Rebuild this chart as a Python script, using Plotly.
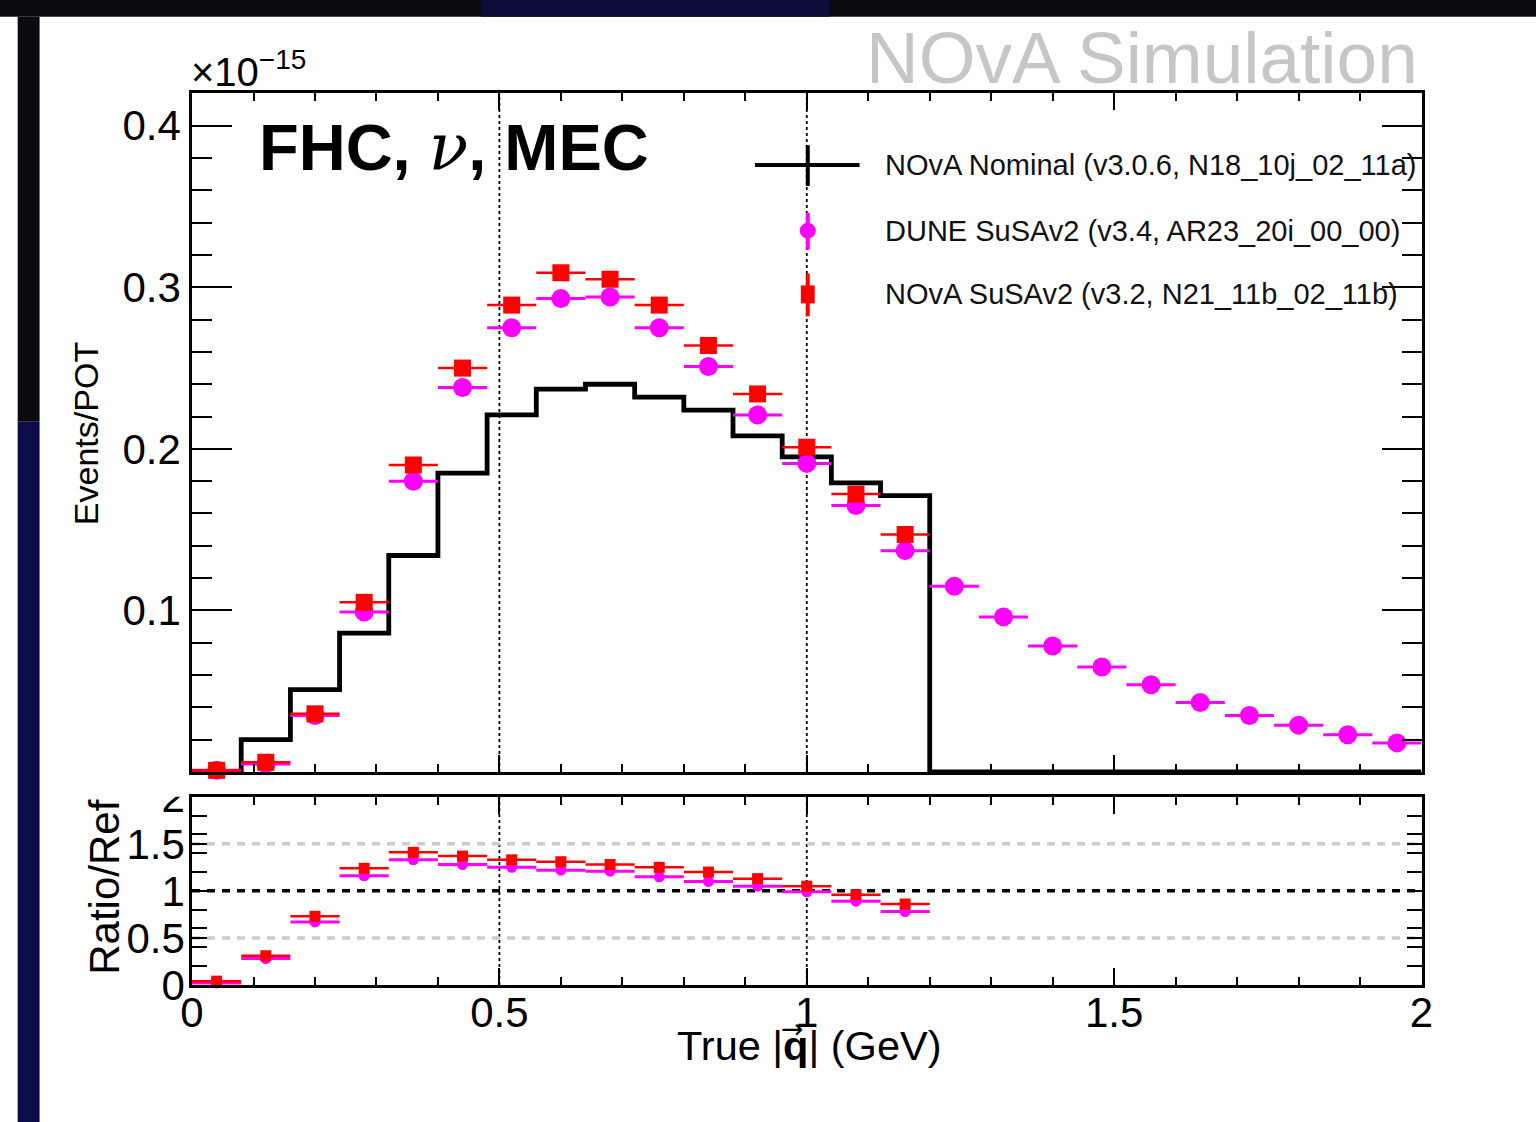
import plotly.graph_objects as go

W, H = 1536, 1122

# ---------------- data ----------------
bin_centers = [0.04, 0.12, 0.20, 0.28, 0.36, 0.44, 0.52, 0.60, 0.68, 0.76,
               0.84, 0.92, 1.00, 1.08, 1.16, 1.24, 1.32, 1.40, 1.48, 1.56,
               1.64, 1.72, 1.80, 1.88, 1.96]
bin_half_width = 0.04

# NOvA Nominal (v3.0.6) - histogram, events/POT in units of 1e-15
nova_nominal = [0.000, 0.020, 0.051, 0.086, 0.134, 0.185, 0.221, 0.237, 0.240,
                0.232, 0.224, 0.208, 0.195, 0.179, 0.171, 0.0, 0.0, 0.0, 0.0,
                0.0, 0.0, 0.0, 0.0, 0.0, 0.0]

# DUNE SuSAv2 (v3.4)
dune_susav2 = [0.001, 0.005, 0.035, 0.099, 0.180, 0.238, 0.275, 0.293, 0.294,
               0.275, 0.251, 0.221, 0.191, 0.165, 0.137, 0.115, 0.096, 0.078,
               0.065, 0.054, 0.043, 0.035, 0.029, 0.023, 0.018]

# NOvA SuSAv2 (v3.2) - only up to 1.2 GeV
nova_susav2 = [0.001, 0.006, 0.036, 0.105, 0.190, 0.250, 0.289, 0.309, 0.305,
               0.289, 0.264, 0.234, 0.201, 0.172, 0.147]

# Ratio / Ref (ratio to NOvA Nominal)
ratio_centers = bin_centers[:15]
ratio_nova_susav2 = [0.04, 0.31, 0.73, 1.24, 1.41, 1.37, 1.33, 1.31, 1.28,
                     1.25, 1.20, 1.13, 1.05, 0.96, 0.86]
ratio_dune_susav2 = [0.02, 0.28, 0.67, 1.16, 1.33, 1.28, 1.25, 1.22, 1.21,
                     1.15, 1.10, 1.05, 0.99, 0.89, 0.78]

legend_labels = ["NOvA Nominal (v3.0.6, N18_10j_02_11a)",
                 "DUNE SuSAv2 (v3.4, AR23_20i_00_00)",
                 "NOvA SuSAv2 (v3.2, N21_11b_02_11b)"]

top_yticks = [0.1, 0.2, 0.3, 0.4]
ratio_yticks = [0, 0.5, 1, 1.5, 2]
x_ticks = [0, 0.5, 1, 1.5, 2]

# ---------------- helpers (layout only) ----------------
# map target screen pixels to paper coordinates (compensates page framing)
AX, BX = 0.988, 9.3
AY, BY = 0.963, 19.2


def px(p):
    return ((p - BX) / AX) / W


def py(p):
    return 1 - ((p - BY) / AY) / H


FONT = "Liberation Sans, Arial, Helvetica, sans-serif"
MAG = "#ff00ff"
RED = "#ff0000"

# histogram step line from bin edges
edges = [c - bin_half_width for c in bin_centers] + [bin_centers[-1] + bin_half_width]
step_y = nova_nominal + [nova_nominal[-1]]

fig = go.Figure()

fig.add_trace(go.Scatter(
    x=edges, y=step_y, mode="lines",
    line=dict(color="black", width=4.8, shape="hv"),
    xaxis="x", yaxis="y", showlegend=False, cliponaxis=False))

fig.add_trace(go.Scatter(
    x=bin_centers, y=dune_susav2, mode="markers",
    marker=dict(symbol="circle", size=19, color=MAG),
    error_x=dict(type="constant", value=bin_half_width, thickness=3, width=0, color=MAG),
    xaxis="x", yaxis="y", showlegend=False, cliponaxis=False))

fig.add_trace(go.Scatter(
    x=bin_centers[:len(nova_susav2)], y=nova_susav2, mode="markers",
    marker=dict(symbol="square", size=17, color=RED),
    error_x=dict(type="constant", value=bin_half_width, thickness=2.5, width=0, color=RED),
    xaxis="x", yaxis="y", showlegend=False, cliponaxis=False))

# ratio panel
fig.add_trace(go.Scatter(
    x=ratio_centers, y=ratio_dune_susav2, mode="markers",
    marker=dict(symbol="circle", size=11, color=MAG),
    error_x=dict(type="constant", value=bin_half_width, thickness=3, width=0, color=MAG),
    xaxis="x2", yaxis="y2", showlegend=False, cliponaxis=False))

fig.add_trace(go.Scatter(
    x=ratio_centers, y=ratio_nova_susav2, mode="markers",
    marker=dict(symbol="square", size=11, color=RED),
    error_x=dict(type="constant", value=bin_half_width, thickness=2.5, width=0, color=RED),
    xaxis="x2", yaxis="y2", showlegend=False, cliponaxis=False))

xdom = [px(190), px(1424)]
axis_common = dict(showline=True, linewidth=2.5, linecolor="black", mirror="allticks",
                   ticks="inside", tickcolor="black", tickwidth=2,
                   showgrid=False, zeroline=False,
                   tickfont=dict(family=FONT, size=42, color="black"))

fig.update_layout(
    width=W, height=H,
    margin=dict(l=0, r=0, t=0, b=0),
    paper_bgcolor="white", plot_bgcolor="white",
    showlegend=False,
    xaxis=dict(domain=xdom, range=[0, 2], anchor="y", showticklabels=False,
               tickmode="array", tickvals=x_ticks, ticklen=17,
               minor=dict(tickmode="linear", tick0=0, dtick=0.1, ticklen=8,
                          ticks="inside", tickwidth=2, tickcolor="black"),
               **axis_common),
    yaxis=dict(domain=[py(772), py(90)], range=[0, 0.42], anchor="x",
               tickmode="array", tickvals=top_yticks,
               ticktext=[str(v) for v in top_yticks], ticklen=40,
               minor=dict(tickmode="linear", tick0=0, dtick=0.02, ticklen=20,
                          ticks="inside", tickwidth=2, tickcolor="black"),
               **axis_common),
    xaxis2=dict(domain=xdom, range=[0, 2], anchor="y2",
                tickmode="array", tickvals=x_ticks,
                ticktext=["0", "0.5", "1", "1.5", "2"], ticklen=17,
                ticklabelstandoff=-11,
                minor=dict(tickmode="linear", tick0=0, dtick=0.1, ticklen=8,
                           ticks="inside", tickwidth=2, tickcolor="black"),
                **axis_common),
    yaxis2=dict(domain=[py(986), py(797)], range=[0, 2], anchor="x2",
                tickmode="array", tickvals=ratio_yticks,
                ticktext=["0", "0.5", "1", "1.5", "2"], ticklen=15,
                ticklabelstandoff=-4,
                minor=dict(tickmode="linear", tick0=0, dtick=0.2, ticklen=15,
                           ticks="inside", tickwidth=2, tickcolor="black"),
                **axis_common),
)

shapes = []
# dotted vertical reference lines
for xv in (0.5, 1.0):
    shapes.append(dict(type="line", xref="x", yref="y domain", x0=xv, x1=xv, y0=0, y1=1,
                       line=dict(color="black", width=1.8, dash="dot"), layer="below"))
    shapes.append(dict(type="line", xref="x2", yref="y2 domain", x0=xv, x1=xv, y0=0, y1=1,
                       line=dict(color="black", width=1.8, dash="dot"), layer="below"))
# ratio horizontal lines
for yv, col in ((0.5, "#cccccc"), (1.5, "#cccccc"), (1.0, "black")):
    shapes.append(dict(type="line", xref="x2 domain", yref="y2", x0=0, x1=1, y0=yv, y1=yv,
                       line=dict(color=col, width=3.5, dash="8px,7px"), layer="below"))

# screen frame decoration (dark borders of the slide)
shapes.append(dict(type="rect", xref="paper", yref="paper", x0=-0.05, x1=1.05, y0=py(13), y1=1.05,
                   fillcolor="#0b0b12", line=dict(width=0), layer="above"))
shapes.append(dict(type="rect", xref="paper", yref="paper", x0=px(480), x1=px(830), y0=py(13), y1=1.05,
                   fillcolor="#0c0c3a", line=dict(width=0), layer="above"))
shapes.append(dict(type="rect", xref="paper", yref="paper", x0=px(15), x1=px(37), y0=py(420), y1=py(13),
                   fillcolor="#0b0b12", line=dict(width=0), layer="above"))
shapes.append(dict(type="rect", xref="paper", yref="paper", x0=px(15), x1=px(37), y0=-0.05, y1=py(420),
                   fillcolor="#0c0c4a", line=dict(width=0), layer="above"))
# hide top half of the ratio "2" label (clipped in the original)
shapes.append(dict(type="rect", xref="paper", yref="paper", x0=px(110), x1=px(186), y0=py(797), y1=py(776),
                   fillcolor="white", line=dict(width=0), layer="above"))

# manual legend symbols
rows = [162, 228, 292]
shapes.append(dict(type="line", xref="paper", yref="paper", x0=px(755), x1=px(860),
                   y0=py(rows[0]), y1=py(rows[0]), line=dict(color="black", width=4)))
shapes.append(dict(type="line", xref="paper", yref="paper", x0=px(808), x1=px(808),
                   y0=py(rows[0] - 20), y1=py(rows[0] + 21), line=dict(color="black", width=4)))
shapes.append(dict(type="line", xref="paper", yref="paper", x0=px(808), x1=px(808),
                   y0=py(rows[1] - 18), y1=py(rows[1] + 19), line=dict(color=MAG, width=4)))
shapes.append(dict(type="circle", xref="paper", yref="paper", x0=px(800), x1=px(816),
                   y0=py(rows[1] - 8), y1=py(rows[1] + 8), fillcolor=MAG, line=dict(width=0)))
shapes.append(dict(type="line", xref="paper", yref="paper", x0=px(808), x1=px(808),
                   y0=py(rows[2] - 21), y1=py(rows[2] + 22), line=dict(color=RED, width=4)))
shapes.append(dict(type="rect", xref="paper", yref="paper", x0=px(801), x1=px(815),
                   y0=py(rows[2] - 9), y1=py(rows[2] + 9), fillcolor=RED, line=dict(width=0)))

annotations = []
for r, lab in zip(rows, legend_labels):
    annotations.append(dict(text=lab, xref="paper", yref="paper", x=px(884), y=py(r),
                            xanchor="left", yanchor="middle", showarrow=False,
                            font=dict(family=FONT, size=29, color="#111111")))

annotations += [
    dict(text="NOvA Simulation", xref="paper", yref="paper", x=px(1422), y=py(54),
         xanchor="right", yanchor="middle", showarrow=False,
         font=dict(family=FONT, size=73, color="#c6c6c6")),
    dict(text="<b>FHC, </b><span style='font-family:DejaVu Serif, Liberation Serif, serif'><i>ν</i></span><b>, MEC</b>",
         xref="paper", yref="paper", x=px(255), y=py(144), xanchor="left", yanchor="middle",
         showarrow=False, font=dict(family=FONT, size=65, color="black")),
    dict(text="×10<sup>−15</sup>", xref="paper", yref="paper", x=px(187), y=py(65),
         xanchor="left", yanchor="middle", showarrow=False,
         font=dict(family=FONT, size=40, color="black")),
    dict(text="Events/POT", xref="paper", yref="paper", x=px(83), y=py(432),
         xanchor="center", yanchor="middle", textangle=-90, showarrow=False,
         font=dict(family=FONT, size=34, color="black")),
    dict(text="Ratio/Ref", xref="paper", yref="paper", x=px(102), y=py(888),
         xanchor="center", yanchor="middle", textangle=-90, showarrow=False,
         font=dict(family=FONT, size=42, color="black")),
    dict(text="True |<b>q</b>| (GeV)", xref="paper", yref="paper", x=px(809), y=py(1047),
         xanchor="center", yanchor="middle", showarrow=False,
         font=dict(family=FONT, size=41.5, color="black")),
    # vector arrow over q
    dict(text="→", xref="paper", yref="paper", x=px(793), y=py(1030),
         xanchor="center", yanchor="middle", showarrow=False,
         font=dict(family="DejaVu Sans, sans-serif", size=27, color="black")),
]

fig.update_layout(shapes=shapes, annotations=annotations)

fig.write_html("out.html", config={"displayModeBar": False},
               post_script="document.body.style.margin='0';document.body.style.overflow='hidden';")
